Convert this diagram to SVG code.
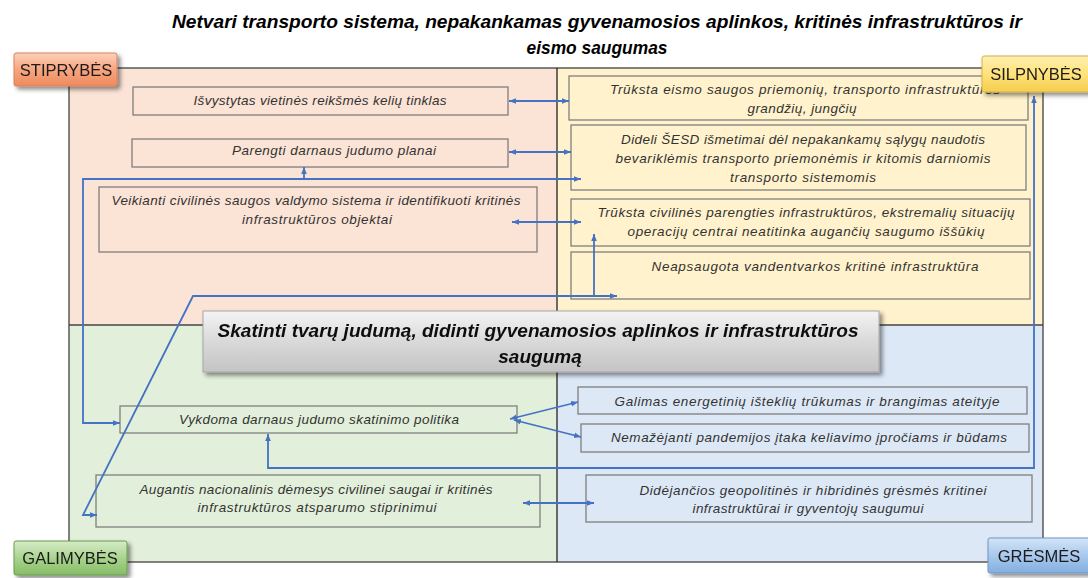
<svg xmlns="http://www.w3.org/2000/svg" width="1088" height="578" viewBox="0 0 1088 578">
<defs>
  <linearGradient id="gS" x1="0" y1="0" x2="0" y2="1"><stop offset="0" stop-color="#fcd1bb"/><stop offset="0.5" stop-color="#f7a57f"/><stop offset="1" stop-color="#ee8a5e"/></linearGradient>
  <linearGradient id="gW" x1="0" y1="0" x2="0" y2="1"><stop offset="0" stop-color="#fff0b3"/><stop offset="0.5" stop-color="#ffe27a"/><stop offset="1" stop-color="#f5cd4e"/></linearGradient>
  <linearGradient id="gO" x1="0" y1="0" x2="0" y2="1"><stop offset="0" stop-color="#d6ecc8"/><stop offset="0.5" stop-color="#a9d38e"/><stop offset="1" stop-color="#86bd66"/></linearGradient>
  <linearGradient id="gT" x1="0" y1="0" x2="0" y2="1"><stop offset="0" stop-color="#d3e5f7"/><stop offset="0.5" stop-color="#a9c8ec"/><stop offset="1" stop-color="#82aee0"/></linearGradient>
  <linearGradient id="gC" x1="0" y1="0" x2="0" y2="1"><stop offset="0" stop-color="#f4f4f4"/><stop offset="0.5" stop-color="#d9d9d9"/><stop offset="1" stop-color="#c4c4c4"/></linearGradient>
  <filter id="sh" x="-10%" y="-20%" width="130%" height="150%"><feDropShadow dx="3" dy="3" stdDeviation="2" flood-color="#000" flood-opacity="0.45"/></filter>
  <marker id="ah" viewBox="0 0 10 10" refX="10" refY="5" markerWidth="7" markerHeight="7" markerUnits="userSpaceOnUse" orient="auto-start-reverse"><path d="M0,1 L10,5 L0,9 Z" fill="#4472c4"/></marker>
  <style>
    .title{font-family:"Liberation Sans",Arial,sans-serif;font-weight:bold;font-style:italic;font-size:18.5px;fill:#000;text-anchor:middle}
    .lab{font-family:"Liberation Sans",Arial,sans-serif;font-size:16.5px;fill:#1a1a1a;text-anchor:middle}
    .box{stroke:#7f7f7f;stroke-width:1.3}
    .t{font-family:"Liberation Sans",Arial,sans-serif;font-style:italic;font-size:13.5px;fill:#333;text-anchor:middle}
    .ct{font-family:"Liberation Sans",Arial,sans-serif;font-weight:bold;font-style:italic;font-size:19px;fill:#111;text-anchor:middle}
    .c{fill:none;stroke:#4472c4;stroke-width:1.8}
    .fs{fill:#fbe3d6}.fw{fill:#fff2cc}.fo{fill:#e2efda}.ft{fill:#dde8f6}
  </style>
</defs>
<rect width="1088" height="578" fill="#fff"/>
<text class="title" x="597" y="28" textLength="850" lengthAdjust="spacingAndGlyphs">Netvari transporto sistema, nepakankamas gyvenamosios aplinkos, kritinės infrastruktūros ir</text>
<text class="title" x="597" y="54" textLength="141" lengthAdjust="spacingAndGlyphs">eismo saugumas</text>
<g id="quadrants">
  <rect class="fs" x="69" y="68" width="488" height="257"/>
  <rect class="fw" x="557" y="68" width="486" height="257"/>
  <rect class="fo" x="69" y="325" width="488" height="237"/>
  <rect class="ft" x="557" y="325" width="486" height="237"/>
  <rect x="69" y="68" width="974" height="494" fill="none" stroke="#595959" stroke-width="1.5"/>
  <line x1="557" y1="68" x2="557" y2="562" stroke="#222" stroke-width="1.3"/>
  <line x1="69" y1="325" x2="1043" y2="325" stroke="#444" stroke-width="1.3"/>
</g>
<g id="S1"><rect class="box fs" x="133" y="87" width="375" height="28"/><text class="t" x="320" y="105" textLength="253">Išvystytas vietinės reikšmės kelių tinklas</text></g>
<g id="S2"><rect class="box fs" x="132" y="139" width="376" height="28"/><text class="t" x="334" y="155" textLength="204">Parengti darnaus judumo planai</text></g>
<g id="S3"><rect class="box fs" x="99" y="187" width="438" height="65"/><text class="t" x="316" y="205" textLength="409">Veikianti civilinės saugos valdymo sistema ir identifikuoti kritinės</text><text class="t" x="317" y="224" textLength="150">infrastruktūros objektai</text></g>
<g id="W1"><rect class="box fw" x="569" y="76" width="459" height="44"/><text class="t" x="805" y="94" textLength="390">Trūksta eismo saugos priemonių, transporto infrastruktūros</text><text class="t" x="802" y="113" textLength="109">grandžių, jungčių</text></g>
<g id="W2"><rect class="box fw" x="571" y="125" width="455" height="65"/><text class="t" x="803" y="144" textLength="364">Dideli ŠESD išmetimai dėl nepakankamų sąlygų naudotis</text><text class="t" x="803" y="163" textLength="375">bevariklėmis transporto priemonėmis ir kitomis darniomis</text><text class="t" x="803" y="182" textLength="146">transporto sistemomis</text></g>
<g id="W3"><rect class="box fw" x="571" y="199" width="459" height="47"/><text class="t" x="806" y="217" textLength="417">Trūksta civilinės parengties infrastruktūros, ekstremalių situacijų</text><text class="t" x="806" y="236" textLength="357">operacijų centrai neatitinka  augančių saugumo iššūkių</text></g>
<g id="W4"><rect class="box fw" x="571" y="252" width="459" height="47"/><text class="t" x="815" y="271" textLength="327">Neapsaugota vandentvarkos kritinė infrastruktūra</text></g>
<g id="O1"><rect class="box fo" x="120" y="406" width="397" height="27"/><text class="t" x="319" y="424" textLength="280">Vykdoma darnaus judumo skatinimo politika</text></g>
<g id="O2"><rect class="box fo" x="96" y="475" width="444" height="52"/><text class="t" x="316" y="494" textLength="353">Augantis nacionalinis dėmesys civilinei saugai ir kritinės</text><text class="t" x="317" y="512" textLength="239">infrastruktūros atsparumo stiprinimui</text></g>
<g id="T1"><rect class="box ft" x="578" y="387" width="449" height="27"/><text class="t" x="807" y="406" textLength="385">Galimas energetinių išteklių trūkumas ir brangimas ateityje</text></g>
<g id="T2"><rect class="box ft" x="581" y="424" width="448" height="28"/><text class="t" x="809" y="442" textLength="396">Nemažėjanti pandemijos įtaka keliavimo įpročiams ir būdams</text></g>
<g id="T3"><rect class="box ft" x="586" y="475" width="446" height="47"/><text class="t" x="813" y="495" textLength="347">Didėjančios geopolitinės ir hibridinės grėsmės kritinei</text><text class="t" x="808" y="513" textLength="231">infrastruktūrai ir gyventojų saugumui</text></g>
<g id="connectors">
  <path class="c" d="M509,101 H569" marker-start="url(#ah)" marker-end="url(#ah)"/>
  <path class="c" d="M509,152 H571" marker-start="url(#ah)" marker-end="url(#ah)"/>
  <path class="c" d="M120,423 H83 V179 H581" marker-start="url(#ah)" marker-end="url(#ah)"/>
  <path class="c" d="M304,179 V167" marker-end="url(#ah)"/>
  <path class="c" d="M512,222 H581" marker-start="url(#ah)" marker-end="url(#ah)"/>
  <path class="c" d="M97,515 H83 L193,296 H617" marker-start="url(#ah)" marker-end="url(#ah)"/>
  <path class="c" d="M594,295 V234" marker-end="url(#ah)"/>
  <path class="c" d="M268,434 V468 H1034 V96" marker-start="url(#ah)" marker-end="url(#ah)"/>
  <path class="c" d="M510,419 L578,402" marker-start="url(#ah)" marker-end="url(#ah)"/>
  <path class="c" d="M514,420 L581,437" marker-start="url(#ah)" marker-end="url(#ah)"/>
  <path class="c" d="M523,503 H594" marker-start="url(#ah)" marker-end="url(#ah)"/>
</g>
<g id="center" filter="url(#sh)"><rect x="203" y="311" width="676" height="61" fill="url(#gC)" stroke="#a6a6a6" stroke-width="1"/><text class="ct" x="538" y="337" textLength="641" lengthAdjust="spacingAndGlyphs">Skatinti tvarų judumą, didinti gyvenamosios aplinkos ir infrastruktūros</text><text class="ct" x="540" y="363">saugumą</text></g>
<g id="STIPRYBES" filter="url(#sh)"><rect x="14" y="53" width="103" height="33" rx="2" fill="url(#gS)" stroke="#d9825a" stroke-width="1"/><text class="lab" x="66" y="76">STIPRYBĖS</text></g>
<g id="SILPNYBES" filter="url(#sh)"><rect x="982" y="56" width="108" height="36" rx="2" fill="url(#gW)" stroke="#d4b04a" stroke-width="1"/><text class="lab" x="1036" y="80">SILPNYBĖS</text></g>
<g id="GALIMYBES" filter="url(#sh)"><rect x="14" y="541" width="113" height="34" rx="2" fill="url(#gO)" stroke="#6b9a4e" stroke-width="1"/><text class="lab" x="70" y="564">GALIMYBĖS</text></g>
<g id="GRESMES" filter="url(#sh)"><rect x="988" y="538" width="102" height="35" rx="2" fill="url(#gT)" stroke="#6f95c4" stroke-width="1"/><text class="lab" x="1039" y="562">GRĖSMĖS</text></g>
</svg>
